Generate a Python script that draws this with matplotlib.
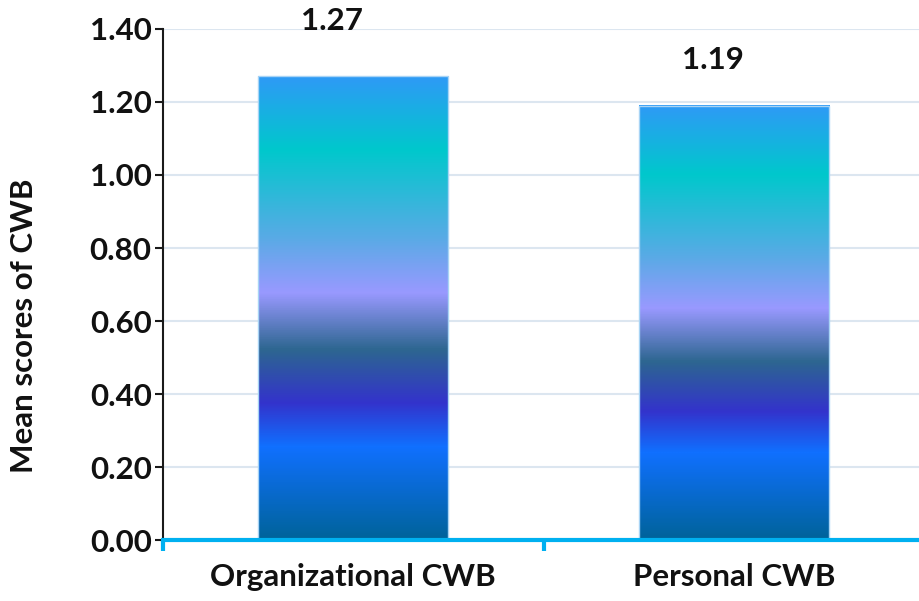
import numpy as np
import matplotlib
matplotlib.use("Agg")
import matplotlib.pyplot as plt
from matplotlib.colors import LinearSegmentedColormap

# Data
categories = ["Organizational CWB", "Personal CWB"]
mean_scores = [1.27, 1.19]
y_ticks = [0.00, 0.20, 0.40, 0.60, 0.80, 1.00, 1.20, 1.40]

plt.rcParams["font.family"] = ["Lato", "DejaVu Sans"]
plt.rcParams["font.weight"] = "bold"

FS = 22.5

fig = plt.figure(figsize=(9.2, 6.01), dpi=100)
ax = fig.add_axes([0.177, 0.101, 0.828, 0.851])

# vertical gradient, bottom (0) to top (1)
grad_stops = [
    (0.00, "#00639A"),
    (0.20, "#1070FF"),
    (0.295, "#3333CC"),
    (0.41, "#2D6690"),
    (0.533, "#9999FF"),
    (0.65, "#5AAAE6"),
    (0.842, "#00C8CC"),
    (1.00, "#2E9AF6"),
]
cmap = LinearSegmentedColormap.from_list("bar_grad", grad_stops)
grad = np.linspace(0, 1, 512).reshape(-1, 1)

x = np.arange(len(categories))
bar_width = 0.5
bars = ax.bar(x, mean_scores, width=bar_width, color="none",
              edgecolor="#A8D4F5", linewidth=1.0, zorder=3)

for rect in bars:
    x0, y0 = rect.get_x(), rect.get_y()
    w, h = rect.get_width(), rect.get_height()
    ax.imshow(grad, cmap=cmap, origin="lower", aspect="auto",
              extent=[x0, x0 + w, y0, y0 + h], zorder=2,
              interpolation="bilinear")

# value labels above the bars
label_offsets = [40, 33]
for xi, val, off in zip(x, mean_scores, label_offsets):
    ax.annotate(f"{val:.2f}", xy=(xi, val), xytext=(-15, off),
                textcoords="offset points", ha="center", va="center",
                fontsize=FS, fontweight="bold", color="#111111",
                annotation_clip=False)

ax.set_xlim(-0.5, len(categories) - 0.5)
ax.set_ylim(0, 1.4)
ax.set_yticks(y_ticks)
ax.set_yticklabels([f"{t:.2f}" for t in y_ticks], fontsize=FS,
                   fontweight="bold", color="#111111")
ax.set_xticks(x)
ax.set_xticklabels(categories, fontsize=FS, fontweight="bold",
                   color="#111111")
ax.set_xticks(np.arange(-0.5, len(categories), 1.0), minor=True)

ax.set_ylabel("Mean scores of CWB", fontsize=FS, fontweight="bold",
              color="#111111")
ax.yaxis.set_label_coords(-0.164, 0.419)

ax.grid(axis="y", color="#DCE6F0", linewidth=1.5, zorder=0)
ax.set_axisbelow(True)

for s in ["top", "right"]:
    ax.spines[s].set_visible(False)
ax.spines["left"].set_color("#1A1A1A")
ax.spines["left"].set_linewidth(1.5)
ax.spines["bottom"].set_color("#00B0F0")
ax.spines["bottom"].set_linewidth(3)
ax.spines["bottom"].set_zorder(4)

ax.tick_params(axis="y", length=6, width=1.5, color="#1A1A1A", pad=2)
ax.tick_params(axis="x", which="major", length=0, pad=16)
ax.tick_params(axis="x", which="minor", length=8, width=3, color="#00B0F0",
               direction="out")

fig.savefig("out.png", dpi=100)
